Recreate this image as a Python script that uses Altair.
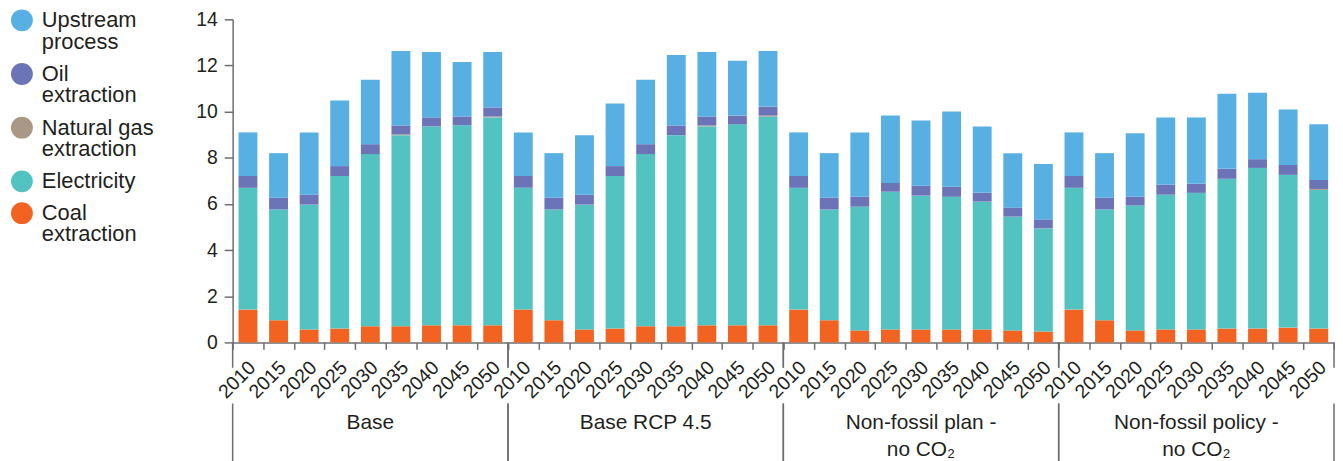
import altair as alt
import pandas as pd

# ---------------- data ----------------
groups = ["Base", "Base RCP 4.5", "Non-fossil plan -\nno CO₂", "Non-fossil policy -\nno CO₂"]
years = ["2010", "2015", "2020", "2025", "2030", "2035", "2040", "2045", "2050"]

series_legend = ["Upstream process", "Oil extraction", "Natural gas extraction",
                 "Electricity", "Coal extraction"]
series_colors = ["#58AFE2", "#6B74B7", "#A89885", "#52C3C1", "#F26322"]
stack_order = ["Coal extraction", "Electricity", "Natural gas extraction",
               "Oil extraction", "Upstream process"]

base_coal = [1.42, 0.96, 0.56, 0.60, 0.70, 0.70, 0.74, 0.74, 0.74]
base_elec = [5.28, 4.80, 5.41, 6.61, 7.46, 8.28, 8.62, 8.67, 9.01]
base_gas = [0, 0, 0, 0, 0, 0.04, 0, 0, 0.04]
base_oil = [0.51, 0.51, 0.43, 0.43, 0.43, 0.38, 0.39, 0.38, 0.39]
base_up = [1.89, 1.93, 2.70, 2.84, 2.79, 3.23, 2.83, 2.36, 2.40]

rcp_coal = [1.42, 0.96, 0.56, 0.60, 0.70, 0.70, 0.74, 0.74, 0.74]
rcp_elec = [5.28, 4.80, 5.41, 6.61, 7.46, 8.28, 8.62, 8.71, 9.05]
rcp_gas = [0, 0, 0, 0, 0, 0, 0.04, 0, 0.04]
rcp_oil = [0.51, 0.51, 0.43, 0.43, 0.43, 0.42, 0.39, 0.38, 0.39]
rcp_up = [1.89, 1.93, 2.58, 2.71, 2.79, 3.05, 2.79, 2.37, 2.41]

plan_coal = [1.42, 0.96, 0.52, 0.56, 0.56, 0.56, 0.56, 0.52, 0.47]
plan_elec = [5.28, 4.80, 5.36, 5.97, 5.80, 5.75, 5.54, 4.93, 4.47]
plan_gas = [0, 0, 0, 0, 0, 0, 0, 0, 0]
plan_oil = [0.51, 0.51, 0.43, 0.38, 0.43, 0.43, 0.38, 0.39, 0.39]
plan_up = [1.89, 1.93, 2.79, 2.92, 2.83, 3.27, 2.88, 2.36, 2.40]

policy_coal = [1.42, 0.96, 0.52, 0.56, 0.56, 0.60, 0.60, 0.64, 0.60]
policy_elec = [5.28, 4.80, 5.41, 5.84, 5.92, 6.49, 6.96, 6.62, 6.01]
policy_gas = [0, 0, 0, 0, 0, 0, 0, 0, 0.04]
policy_oil = [0.51, 0.51, 0.38, 0.43, 0.39, 0.43, 0.38, 0.43, 0.39]
policy_up = [1.89, 1.93, 2.75, 2.92, 2.88, 3.26, 2.88, 2.40, 2.41]

y_ticks = [0, 2, 4, 6, 8, 10, 12, 14]

# ---------------- table ----------------
table = {
    groups[0]: [base_coal, base_elec, base_gas, base_oil, base_up],
    groups[1]: [rcp_coal, rcp_elec, rcp_gas, rcp_oil, rcp_up],
    groups[2]: [plan_coal, plan_elec, plan_gas, plan_oil, plan_up],
    groups[3]: [policy_coal, policy_elec, policy_gas, policy_oil, policy_up],
}
rows = []
for g, series_lists in table.items():
    for k, vals in enumerate(series_lists):
        for yr, v in zip(years, vals):
            rows.append({"Group": g, "Year": yr, "Series": stack_order[k],
                         "Order": k, "Value": v})
df = pd.DataFrame(rows)

# ---------------- styling ----------------
W, H = 277, 325
FONT = "Liberation Sans"
TXT = "#231F20"
GREY = "#6D6E71"

x_enc = alt.X(
    "Year:N", sort=years, title=None,
    scale=alt.Scale(paddingInner=0, paddingOuter=0),
    axis=alt.Axis(labelAngle=-45, labelAlign="right", labelBaseline="middle",
                  labelFontSize=19.5, labelPadding=15, labelOffset=4,
                  labelOverlap=False, tickBand="extent", tickSize=7,
                  tickWidth=1.5, domainWidth=1.5),
)

bars = alt.Chart().mark_bar(width=19).encode(
    x=x_enc,
    y=alt.Y("Value:Q", title=None, stack="zero",
            scale=alt.Scale(domain=[0, 14], nice=False),
            axis=alt.Axis(values=y_ticks, labelFontSize=19.5, labelPadding=7,
                          tickSize=8.5, tickWidth=1.5, domainWidth=1.5, grid=False)),
    color=alt.Color(
        "Series:N",
        scale=alt.Scale(domain=series_legend, range=series_colors),
        legend=alt.Legend(
            title=None, orient="none", legendX=-223, legendY=-10,
            symbolType="circle", symbolSize=484, symbolStrokeWidth=0,
            symbolOpacity=1, labelFontSize=22, labelOffset=9,
            labelColor=TXT, labelFont=FONT, rowPadding=10, padding=0,
            labelLimit=400, labelBaseline="middle",
            labelExpr="datum.label == 'Natural gas extraction' ? ['Natural gas', 'extraction'] : split(datum.label, ' ')",
        ),
    ),
    order=alt.Order("Order:Q", sort="ascending"),
)

one_per_cell = alt.Chart().transform_filter(
    (alt.datum.Series == "Coal extraction") & (alt.datum.Year == "2010")
)

edge_l = one_per_cell.mark_rule(color=GREY, strokeWidth=1.5).encode(
    x=alt.value(0), y=alt.value(H), y2=alt.value(H + 25.5))
sep_l = one_per_cell.mark_rule(color=GREY, strokeWidth=1.5).encode(
    x=alt.value(0), y=alt.value(H + 61.5), y2=alt.value(H + 130))
edge_r = one_per_cell.mark_rule(color=GREY, strokeWidth=1.5).encode(
    x=alt.value(W), y=alt.value(H), y2=alt.value(H + 25.5))
sep_r = one_per_cell.mark_rule(color=GREY, strokeWidth=1.5).encode(
    x=alt.value(W), y=alt.value(H + 61.5), y2=alt.value(H + 130))

group_labels = one_per_cell.mark_text(
    lineBreak="\n", lineHeight=27, fontSize=21, font=FONT, color=TXT,
    align="center", baseline="alphabetic",
).encode(text="Group:N", x=alt.value(W / 2), y=alt.value(H + 87.5))

cell = alt.layer(bars, edge_l, sep_l, edge_r, sep_r, group_labels, data=df).properties(
    width=W, height=H)

chart = cell.facet(
    column=alt.Column("Group:N", sort=groups, title=None,
                      header=alt.Header(labels=False)),
    spacing=0,
    bounds="flush",
).properties(
    padding={"left": 3, "top": 0, "right": 0, "bottom": 0},
    config=alt.Config(
        style={"guide-label": {"lineHeight": 21.5}},
        view=alt.ViewConfig(stroke=None),
        axis=alt.AxisConfig(labelFont=FONT, labelColor=TXT, domainColor=GREY,
                            tickColor=GREY),
        font=FONT,
    ),
)

chart.save("out.html", embed_options={"renderer": "svg", "actions": False})
